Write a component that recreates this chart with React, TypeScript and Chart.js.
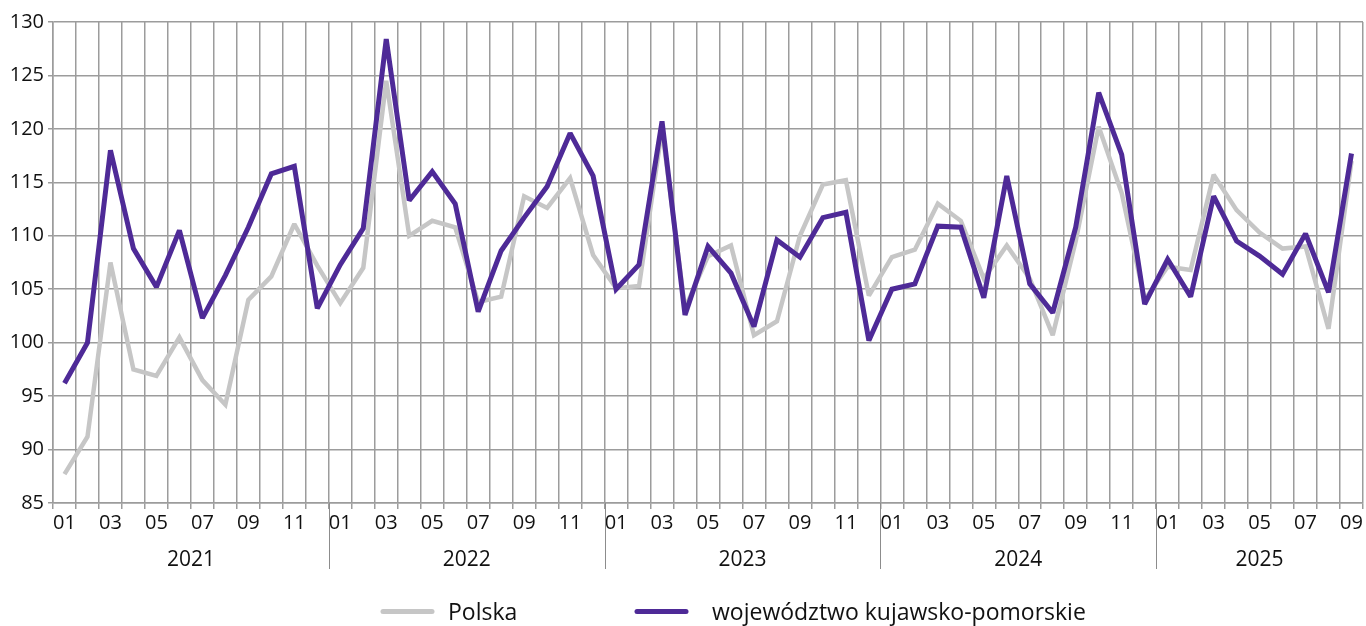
import React, { useEffect, useRef } from "react";
import { Chart, registerables } from "chart.js";

Chart.register(...registerables);

const years = ["2021", "2022", "2023", "2024", "2025"];
const monthsPerYear = [12, 12, 12, 12, 9];

const categories: string[] = [];
years.forEach((y, yi) => {
  for (let m = 1; m <= monthsPerYear[yi]; m++) {
    categories.push(`${y}-${String(m).padStart(2, "0")}`);
  }
});

const polska = [
  87.7, 91.2, 107.5, 97.5, 96.9, 100.5, 96.5, 94.2, 104.0, 106.2, 111.1, 107.2,
  103.7, 107.0, 124.5, 110.0, 111.4, 110.8, 103.8, 104.3, 113.7, 112.6, 115.4, 108.2,
  105.1, 105.3, 120.0, 103.2, 108.1, 109.1, 100.7, 102.0, 110.0, 114.8, 115.2, 104.4,
  108.0, 108.7, 113.0, 111.4, 106.0, 109.1, 106.0, 100.7, 109.5, 120.2, 114.0, 104.0,
  107.1, 106.8, 115.7, 112.4, 110.3, 108.8, 109.0, 101.3, 117.0,
];

const kujawsko = [
  96.2, 100.0, 118.0, 108.8, 105.2, 110.5, 102.3, 106.3, 110.8, 115.8, 116.5, 103.2,
  107.3, 110.7, 128.4, 113.3, 116.0, 113.0, 102.9, 108.6, 111.7, 114.6, 119.6, 115.6,
  105.0, 107.3, 120.7, 102.6, 109.0, 106.5, 101.5, 109.6, 108.0, 111.7, 112.2, 100.2,
  105.0, 105.5, 110.9, 110.8, 104.2, 115.6, 105.5, 102.8, 110.8, 123.4, 117.6, 103.6,
  107.8, 104.3, 113.7, 109.5, 108.1, 106.4, 110.2, 104.7, 117.7,
];

const seriesNames = ["Polska", "województwo kujawsko-pomorskie"];
const seriesColors = ["#c6c6c6", "#4e2a97"];

const yTicks = { min: 85, max: 130, step: 5 };

const FONT = "'Open Sans', 'DejaVu Sans', sans-serif";
const GRID = "#9c9c9c";
const TEXT = "#111111";

const miterPlugin = {
  id: "miter",
  beforeDatasetsDraw(chart: any) {
    chart.ctx.save();
    chart.ctx.miterLimit = 2.2;
  },
  afterDatasetsDraw(chart: any) {
    chart.ctx.restore();
  },
};

const extrasPlugin = {
  id: "extras",
  afterDraw(chart: any) {
    const ctx = chart.ctx;
    const xs = chart.scales.x;
    const area = chart.chartArea;
    const n = categories.length;
    const band = (area.right - area.left) / n;
    ctx.save();
    let start = 0;
    years.forEach((y, yi) => {
      const cnt = monthsPerYear[yi];
      const x0 = xs.getPixelForValue(start) - band / 2;
      const x1 = xs.getPixelForValue(start + cnt - 1) + band / 2;
      if (yi > 0) {
        ctx.strokeStyle = "#8c8c8c";
        ctx.lineWidth = 1;
        ctx.beginPath();
        ctx.moveTo(Math.round(x0) + 0.5, area.bottom);
        ctx.lineTo(Math.round(x0) + 0.5, 569);
        ctx.stroke();
      }
      ctx.fillStyle = TEXT;
      ctx.font = `21px ${FONT}`;
      ctx.textAlign = "center";
      ctx.textBaseline = "middle";
      ctx.fillText(y, (x0 + x1) / 2, 560);
      start += cnt;
    });
    const legendItems = [
      { name: seriesNames[0], color: seriesColors[0], sx: 381, tx: 448 },
      { name: seriesNames[1], color: seriesColors[1], sx: 635, tx: 712 },
    ];
    legendItems.forEach((it) => {
      ctx.strokeStyle = it.color;
      ctx.lineWidth = 5;
      ctx.lineCap = "round";
      ctx.beginPath();
      ctx.moveTo(it.sx + 2, 611.5);
      ctx.lineTo(it.sx + 51, 611.5);
      ctx.stroke();
      ctx.fillStyle = TEXT;
      ctx.font = `23px ${FONT}`;
      ctx.textAlign = "left";
      ctx.textBaseline = "middle";
      ctx.fillText(it.name, it.tx, 613);
    });
    ctx.restore();
  },
};

export default function App() {
  const ref = useRef<HTMLCanvasElement>(null);

  useEffect(() => {
    if (!ref.current) return;
    const chart = new Chart(ref.current, {
      type: "line",
      data: {
        labels: categories,
        datasets: [
          {
            label: seriesNames[1],
            data: kujawsko,
            borderColor: seriesColors[1],
            backgroundColor: seriesColors[1],
            borderWidth: 5,
            pointRadius: 0,
            tension: 0,
          },
          {
            label: seriesNames[0],
            data: polska,
            borderColor: seriesColors[0],
            backgroundColor: seriesColors[0],
            borderWidth: 4.5,
            pointRadius: 0,
            tension: 0,
          },
        ],
      },
      options: {
        responsive: false,
        animation: false,
        devicePixelRatio: 1,
        layout: { padding: { top: 22, right: 3, left: 0, bottom: 0 } },
        plugins: {
          legend: { display: false },
          tooltip: { enabled: false },
        },
        scales: {
          x: {
            type: "category",
            offset: true,
            grid: {
              offset: true,
              color: GRID,
              lineWidth: 1.5,
              drawTicks: true,
              tickLength: 6,
            },
            border: { color: GRID, width: 1.5 },
            ticks: {
              autoSkip: false,
              maxRotation: 0,
              minRotation: 0,
              padding: 2,
              color: TEXT,
              font: { family: FONT, size: 20 },
              callback: (_v: any, i: number) => {
                const m = categories[i].slice(5);
                return parseInt(m, 10) % 2 === 1 ? m : "";
              },
            },
            afterFit: (s: any) => {
              s.height = 123;
            },
          },
          y: {
            min: yTicks.min,
            max: yTicks.max,
            grid: { color: GRID, lineWidth: 1.5, tickLength: 5 },
            border: { color: GRID, width: 1.5 },
            ticks: {
              stepSize: yTicks.step,
              padding: 4,
              color: TEXT,
              font: { family: FONT, size: 20 },
            },
            afterFit: (s: any) => {
              s.width = 53;
            },
          },
        },
      },
      plugins: [miterPlugin, extrasPlugin],
    });
    return () => chart.destroy();
  }, []);

  return (
    <div style={{ position: "absolute", left: 0, top: 0, width: 1366, height: 626, background: "#fff" }}>
      <canvas ref={ref} width={1366} height={626} style={{ display: "block" }} />
    </div>
  );
}
